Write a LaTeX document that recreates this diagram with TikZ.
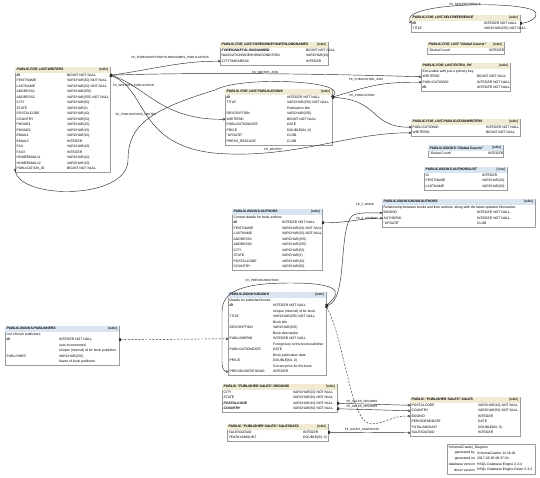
\documentclass[tikz,border=0pt]{standalone}
\usepackage{fontspec}
\setmainfont{Liberation Sans}
\usetikzlibrary{arrows.meta}
\definecolor{lintbeige}{RGB}{241,235,212}
\definecolor{booksblue}{RGB}{217,229,241}
\definecolor{framegray}{RGB}{155,155,155}
\definecolor{linkgray}{RGB}{45,45,45}
\newcommand{\pkcol}[1]{\textbf{\textit{#1}}}

\begin{document}
\begin{tikzpicture}[x=1pt, y=-1pt,
  every node/.style={font=\fontsize{3.4}{4}\selectfont, inner sep=0pt},
  tbl/.style={draw=framegray, fill=white, line width=0.4pt},
  hdr/.style={anchor=west, font=\fontsize{3.4}{4}\selectfont\bfseries\itshape},
  kind/.style={anchor=east},
  colname/.style={anchor=west},
  coltype/.style={anchor=west},
  fk/.style={draw=linkgray, line width=0.45pt, {Square[length=2pt,width=2.6pt]}-{Circle[open,length=2.4pt,width=2.4pt]}},
  fkdash/.style={fk, dash pattern=on 2pt off 1.5pt},
  fklabel/.style={font=\fontsize{3}{3.5}\selectfont}]
  \path[use as bounding box, fill=white] (0,0) rectangle (540,477);

  % Writers
  \draw[tbl] (15,67) rectangle (110,172.5);
  \fill[lintbeige] (15.2,67.2) rectangle (109.8,72.5);
  \node[hdr] (wr-title) at (16.5,69.8) {PUBLIC.FOR\_LINT.WRITERS};
  \node[kind] (wr-kind) at (108.5,69.8) {[table]};
  \foreach [count=\i] \n/\t in {\pkcol{ID}/BIGINT NOT NULL, FIRSTNAME/VARCHAR(20) NOT NULL,
      LASTNAME/VARCHAR(20) NOT NULL, ADDRESS1/VARCHAR(255), ADDRESS2/VARCHAR(255) NOT NULL,
      CITY/VARCHAR(50), STATE/VARCHAR(2), POSTALCODE/VARCHAR(10), COUNTRY/VARCHAR(50),
      PHONE1/VARCHAR(15), PHONE2/VARCHAR(15), EMAIL1/VARCHAR(10), EMAIL2/INTEGER,
      FAX/VARCHAR(10), FAX3/INTEGER, HOMEEMAIL11/VARCHAR(10), HOMEEMAIL12/VARCHAR(10),
      PUBLICATION\_ID/BIGINT NOT NULL} {
    \node[colname] (wr-n\i) at (16.5,69.75+5.5*\i) {\n};
    \node[coltype] (wr-t\i) at (67,69.75+5.5*\i) {\t};
    \coordinate (wr-\i-w) at (15,69.75+5.5*\i);
    \coordinate (wr-\i-e) at (110,69.75+5.5*\i);
  }

  % Table with the long name
  \draw[tbl] (220,42) rectangle (328,65);
  \fill[lintbeige] (220.2,42.2) rectangle (327.8,47.5);
  \node[hdr] (ln-title) at (221.5,44.8) {PUBLIC.FOR\_LINT.FOREIGNKEYSWITHLONGNAMES};
  \node[kind] (ln-kind) at (326.5,44.8) {[table]};
  \foreach [count=\i] \n/\t in {\pkcol{FOREIGNKEYSLONGNAMEID}/BIGINT NOT NULL,
      NAVIGATIONSIDESHOWCONDITION/VARCHAR(10), CITYTIMEAREAC/INTEGER} {
    \node[colname] (ln-n\i) at (221.5,44.75+5.5*\i) {\n};
    \node[coltype] (ln-t\i) at (306,44.75+5.5*\i) {\t};
    \coordinate (ln-\i-w) at (220,44.75+5.5*\i);
  }

  % Publications
  \draw[tbl] (225,89) rectangle (332,145);
  \fill[lintbeige] (225.2,89.2) rectangle (331.8,94.5);
  \node[hdr] (pub-title) at (226.5,91.8) {PUBLIC.FOR\_LINT.PUBLICATIONS};
  \node[kind] (pub-kind) at (330.5,91.8) {[table]};
  \foreach [count=\i] \n/\t in {\pkcol{ID}/INTEGER NOT NULL, TITLE/VARCHAR(255) NOT NULL,
      {}/Publication title, DESCRIPTION/VARCHAR(255), WRITERID/BIGINT NOT NULL,
      PUBLICATIONDATE/DATE, PRICE/{DOUBLE(64, 0)}, "UPDATE"/CLOB, PRESS\_RELEASE/CLOB} {
    \node[colname] (pub-n\i) at (226.5,91.75+5.5*\i) {\n};
    \node[coltype] (pub-t\i) at (287,91.75+5.5*\i) {\t};
    \coordinate (pub-\i-w) at (225,91.75+5.5*\i);
    \coordinate (pub-\i-e) at (332,91.75+5.5*\i);
  }

  % Selfreference
  \draw[tbl] (411,15) rectangle (520,32.5);
  \fill[lintbeige] (411.2,15.2) rectangle (519.8,20.5);
  \node[hdr] (sr-title) at (412.5,17.8) {PUBLIC.FOR\_LINT.SELFREFERENCE};
  \node[kind] (sr-kind) at (518.5,17.8) {[table]};
  \foreach [count=\i] \n/\t in {\pkcol{ID}/INTEGER NOT NULL, TITLE/VARCHAR(255) NOT NULL} {
    \node[colname] (sr-n\i) at (412.5,17.75+5.5*\i) {\n};
    \node[coltype] (sr-t\i) at (484,17.75+5.5*\i) {\t};
    \coordinate (sr-\i-w) at (411,17.75+5.5*\i);
    \coordinate (sr-\i-e) at (520,17.75+5.5*\i);
  }

  % Global Counts (for_lint)
  \draw[tbl] (427,42) rectangle (504,54);
  \fill[lintbeige] (427.2,42.2) rectangle (503.8,47.5);
  \node[hdr] (gc1-title) at (428.5,44.8) {PUBLIC.FOR\_LINT."Global Counts"};
  \node[kind] (gc1-kind) at (502.5,44.8) {[table]};
  \node[colname] (gc1-n1) at (428.5,50.25) {"Global Count"};
  \node[coltype] (gc1-t1) at (489,50.25) {INTEGER};

  % Extra primary key
  \draw[tbl] (421,63) rectangle (510,91.5);
  \fill[lintbeige] (421.2,63.2) rectangle (509.8,68.5);
  \node[hdr] (xp-title) at (422.5,65.8) {PUBLIC.FOR\_LINT.EXTRA\_PK};
  \node[kind] (xp-kind) at (508.5,65.8) {[table]};
  \foreach [count=\i] \n/\t in {Extra table with just a primary key/{}, WRITERID/BIGINT NOT NULL,
      PUBLICATIONID/INTEGER NOT NULL, \pkcol{ID}/INTEGER NOT NULL} {
    \node[colname] (xp-n\i) at (422.5,65.75+5.5*\i) {\n};
    \node[coltype] (xp-t\i) at (477,65.75+5.5*\i) {\t};
    \coordinate (xp-\i-w) at (421,65.75+5.5*\i);
  }

  % Publication writers
  \draw[tbl] (411,119) rectangle (520,136.5);
  \fill[lintbeige] (411.2,119.2) rectangle (519.8,124.5);
  \node[hdr] (pw-title) at (412.5,121.8) {PUBLIC.FOR\_LINT.PUBLICATIONWRITERS};
  \node[kind] (pw-kind) at (518.5,121.8) {[table]};
  \foreach [count=\i] \n/\t in {PUBLICATIONID/INTEGER NOT NULL, WRITERID/BIGINT NOT NULL} {
    \node[colname] (pw-n\i) at (412.5,121.75+5.5*\i) {\n};
    \node[coltype] (pw-t\i) at (486,121.75+5.5*\i) {\t};
    \coordinate (pw-\i-w) at (411,121.75+5.5*\i);
  }

  % Global Counts (books)
  \draw[tbl] (428,145) rectangle (503,157);
  \fill[booksblue] (428.2,145.2) rectangle (502.8,150.5);
  \node[hdr] (gc2-title) at (429.5,147.8) {PUBLIC.BOOKS."Global Counts"};
  \node[kind] (gc2-kind) at (501.5,147.8) {[table]};
  \node[colname] (gc2-n1) at (429.5,153.25) {"Global Count"};
  \node[coltype] (gc2-t1) at (488,153.25) {INTEGER};

  % Authors list
  \draw[tbl] (424,167) rectangle (507,190);
  \fill[booksblue] (424.2,167.2) rectangle (506.8,172.5);
  \node[hdr] (al-title) at (425.5,169.8) {PUBLIC.BOOKS.AUTHORSLIST};
  \node[kind] (al-kind) at (505.5,169.8) {[view]};
  \foreach [count=\i] \n/\t in {ID/INTEGER, FIRSTNAME/VARCHAR(20), LASTNAME/VARCHAR(20)} {
    \node[colname] (al-n\i) at (425.5,169.75+5.5*\i) {\n};
    \node[coltype] (al-t\i) at (482,169.75+5.5*\i) {\t};
  }

  % Book authors
  \draw[tbl] (382,199) rectangle (535,227.5);
  \fill[booksblue] (382.2,199.2) rectangle (534.8,204.5);
  \node[hdr] (ba-title) at (383.5,201.8) {PUBLIC.BOOKS.BOOKAUTHORS};
  \node[kind] (ba-kind) at (533.5,201.8) {[table]};
  \foreach [count=\i] \n/\t in {Relationship between books and their authors{,} along with the latest updated information/{},
      BOOKID/INTEGER NOT NULL, AUTHORID/INTEGER NOT NULL, "UPDATE"/CLOB} {
    \node[colname] (ba-n\i) at (383.5,201.75+5.5*\i) {\n};
    \node[coltype] (ba-t\i) at (477,201.75+5.5*\i) {\t};
    \coordinate (ba-\i-w) at (382,201.75+5.5*\i);
  }

  % Authors
  \draw[tbl] (232,209) rectangle (322,270.5);
  \fill[booksblue] (232.2,209.2) rectangle (321.8,214.5);
  \node[hdr] (au-title) at (233.5,211.8) {PUBLIC.BOOKS.AUTHORS};
  \node[kind] (au-kind) at (320.5,211.8) {[table]};
  \foreach [count=\i] \n/\t in {Contact details for book authors/{}, \pkcol{ID}/INTEGER NOT NULL,
      FIRSTNAME/VARCHAR(20) NOT NULL, LASTNAME/VARCHAR(20) NOT NULL, ADDRESS1/VARCHAR(255),
      ADDRESS2/VARCHAR(255), CITY/VARCHAR(50), STATE/VARCHAR(2), POSTALCODE/VARCHAR(10),
      COUNTRY/VARCHAR(50)} {
    \node[colname] (au-n\i) at (233.5,211.75+5.5*\i) {\n};
    \node[coltype] (au-t\i) at (282,211.75+5.5*\i) {\t};
    \coordinate (au-\i-e) at (322,211.75+5.5*\i);
  }

  % Books
  \draw[tbl] (228,292) rectangle (326,375.5);
  \fill[booksblue] (228.2,292.2) rectangle (325.8,297.5);
  \node[hdr] (bk-title) at (229.5,294.8) {PUBLIC.BOOKS.BOOKS};
  \node[kind] (bk-kind) at (324.5,294.8) {[table]};
  \foreach [count=\i] \n/\t in {Details for published books/{}, \pkcol{ID}/INTEGER NOT NULL,
      {}/Unique (internal) id for book, TITLE/VARCHAR(255) NOT NULL, {}/Book title,
      DESCRIPTION/VARCHAR(255), {}/Book description, PUBLISHERID/INTEGER NOT NULL,
      {}/Foreign key to the book publisher, PUBLICATIONDATE/DATE, {}/Book publication date,
      PRICE/{DOUBLE(64, 0)}, {}/Current price for the book, PREVIOUSEDITIONID/INTEGER} {
    \node[colname] (bk-n\i) at (229.5,294.75+5.5*\i) {\n};
    \node[coltype] (bk-t\i) at (273,294.75+5.5*\i) {\t};
    \coordinate (bk-\i-w) at (228,294.75+5.5*\i);
    \coordinate (bk-\i-e) at (326,294.75+5.5*\i);
  }

  % Publishers
  \draw[tbl] (5,326) rectangle (119,365);
  \fill[booksblue] (5.2,326.2) rectangle (118.8,331.5);
  \node[hdr] (ps-title) at (6.5,328.8) {PUBLIC.BOOKS.PUBLISHERS};
  \node[kind] (ps-kind) at (117.5,328.8) {[table]};
  \foreach [count=\i] \n/\t in {List of book publishers/{}, \pkcol{ID}/INTEGER NOT NULL,
      {}/auto-incremented, {}/Unique (internal) id for book publisher,
      PUBLISHER/VARCHAR(255), {}/Name of book publisher} {
    \node[colname] (ps-n\i) at (6.5,328.75+5.5*\i) {\n};
    \node[coltype] (ps-t\i) at (59,328.75+5.5*\i) {\t};
    \coordinate (ps-\i-e) at (119,328.75+5.5*\i);
  }

  % Regions
  \draw[tbl] (222,384) rectangle (337,412.5);
  \fill[lintbeige] (222.2,384.2) rectangle (336.8,389.5);
  \node[hdr] (rg-title) at (223.5,386.8) {PUBLIC."PUBLISHER SALES".REGIONS};
  \node[kind] (rg-kind) at (335.5,386.8) {[table]};
  \foreach [count=\i] \n/\t in {CITY/VARCHAR(20) NOT NULL, STATE/VARCHAR(20) NOT NULL,
      \pkcol{POSTALCODE}/VARCHAR(10) NOT NULL, \pkcol{COUNTRY}/VARCHAR(50) NOT NULL} {
    \node[colname] (rg-n\i) at (223.5,386.75+5.5*\i) {\n};
    \node[coltype] (rg-t\i) at (293,386.75+5.5*\i) {\t};
    \coordinate (rg-\i-e) at (337,386.75+5.5*\i);
  }

  % Sales data
  \draw[tbl] (227,424) rectangle (328,441);
  \fill[lintbeige] (227.2,424.2) rectangle (327.8,429.5);
  \node[hdr] (sd-title) at (228.5,426.8) {PUBLIC."PUBLISHER SALES".SALESDATA};
  \node[kind] (sd-kind) at (326.5,426.8) {[table]};
  \foreach [count=\i] \n/\t in {SALESDATAID/INTEGER, YEARLYAMOUNT/{DOUBLE(64, 0)}} {
    \node[colname] (sd-n\i) at (228.5,426.75+5.5*\i) {\n};
    \node[coltype] (sd-t\i) at (303,426.75+5.5*\i) {\t};
    \coordinate (sd-\i-e) at (328,426.75+5.5*\i);
  }

  % Sales
  \draw[tbl] (410,397) rectangle (520,436.5);
  \fill[lintbeige] (410.2,397.2) rectangle (519.8,402.5);
  \node[hdr] (sl-title) at (411.5,399.8) {PUBLIC."PUBLISHER SALES".SALES};
  \node[kind] (sl-kind) at (518.5,399.8) {[table]};
  \foreach [count=\i] \n/\t in {POSTALCODE/VARCHAR(10) NOT NULL, COUNTRY/VARCHAR(50) NOT NULL,
      BOOKID/INTEGER, PERIODENDDATE/DATE, TOTALAMOUNT/{DOUBLE(64, 0)}, SALESDATAID/INTEGER} {
    \node[colname] (sl-n\i) at (411.5,399.75+5.5*\i) {\n};
    \node[coltype] (sl-t\i) at (478,399.75+5.5*\i) {\t};
    \coordinate (sl-\i-w) at (410,399.75+5.5*\i);
  }

  % Legend
  \draw[tbl] (447,444) rectangle (535,474);
  \node[colname] (lg-title) at (448.5,447.5) {SchemaCrawler\_Diagram};
  \foreach [count=\i] \n/\t in {generated by/SchemaCrawler 14.16.01, generated on/2017-05-05 08:37:34,
      database version/HSQL Database Engine 2.3.4, driver version/HSQL Database Engine Driver 2.3.4} {
    \node[anchor=east] (lg-n\i) at (475,447.5+5.6*\i) {\n};
    \node[colname] (lg-t\i) at (477,447.5+5.6*\i) {\t};
  }

  % Foreign keys, for_lint
  \draw[fk] (wr-1-e) .. controls (150,70) and (180,61) .. (ln-3-w);
  \node[fklabel, anchor=east] (fk-ln) at (209,57.5) {FK\_FOREIGNKEYSWITHLONGNAMES\_PUBLICATIONS};
  \draw[fk] (wr-1-e) .. controls (200,72) and (330,74) .. (xp-2-w);
  \node[fklabel] (fk-wj) at (265,73) {FK\_WRITER\_JOIN};
  \draw[fk] (wr-1-e) .. controls (145,85) and (160,120) .. (pub-5-w);
  \node[fklabel] (fk-pw) at (136,115) {FK\_PUBLICATIONS\_WRITER};
  \draw[fk] (pub-1-e) .. controls (350,80) and (240,76) .. (215,90)
    .. controls (150,110) and (128,125) .. (128,160)
    .. controls (128,200) and (20,200) .. (wr-18-w);
  \node[fklabel, anchor=west] (fk-wp) at (113,86) {FK\_WRITERS\_PUBLICATION};
  \draw[fk] (wr-1-e) .. controls (150,90) and (135,152) .. (230,154)
    .. controls (300,156) and (350,133) .. (pw-2-w);
  \node[fklabel] (fk-w) at (273,150) {FK\_WRITER};
  \draw[fk] (pub-1-e) .. controls (370,86) and (380,82) .. (xp-3-w);
  \node[fklabel] (fk-pj) at (366,80) {FK\_PUBLICATION\_JOIN};
  \draw[fk] (pub-1-e) .. controls (380,100) and (370,127) .. (pw-1-w);
  \node[fklabel] (fk-p) at (362,96) {FK\_PUBLICATION};
  \draw[fk] (sr-1-e) .. controls (528,23) and (538,18) .. (536,13)
    .. controls (532,0) and (400,2) .. (sr-1-w);
  \node[fklabel] (fk-sr) at (465,4.5) {FK\_SELFREFERENCE};

  % Foreign keys, books
  \draw[fk] (au-2-e) .. controls (350,223) and (360,218) .. (ba-3-w);
  \node[fklabel] (fk-za) at (367,218.5) {FK\_Z\_AUTHOR};
  \draw[fk] (bk-2-e) .. controls (348,300) and (338,230) .. (352,216)
    .. controls (358,212) and (368,213) .. (ba-2-w);
  \node[fklabel] (fk-yb) at (365,205) {FK\_Y\_BOOK};
  \draw[fk] (bk-2-e) .. controls (345,290) and (335,283) .. (290,283)
    .. controls (240,283) and (222,292) .. (222,312)
    -- (222,362) .. controls (222,368) and (224,371) .. (bk-14-w);
  \node[fklabel] (fk-pe) at (262,280.5) {FK\_PREVIOUSEDITION};
  \draw[fkdash] (ps-2-e) -- (bk-8-w);
  \draw[fkdash] (bk-2-e) .. controls (345,340) and (350,425) .. (372,424)
    .. controls (385,423) and (395,415) .. (sl-3-w);

  % Foreign keys, publisher sales
  \draw[fk] (rg-3-e) -- (sl-1-w);
  \node[fklabel] (fk-sr1) at (362,401.5) {FK\_SALES\_REGIONS};
  \draw[fk] (rg-4-e) -- (sl-2-w);
  \node[fklabel] (fk-sr2) at (362,407) {FK\_SALES\_REGIONS};
  \draw[fk] (sd-1-e) -- (sl-6-w);
  \node[fklabel] (fk-ss) at (362,429.5) {FK\_SALES\_SALESDATA};
\end{tikzpicture}
\end{document}
